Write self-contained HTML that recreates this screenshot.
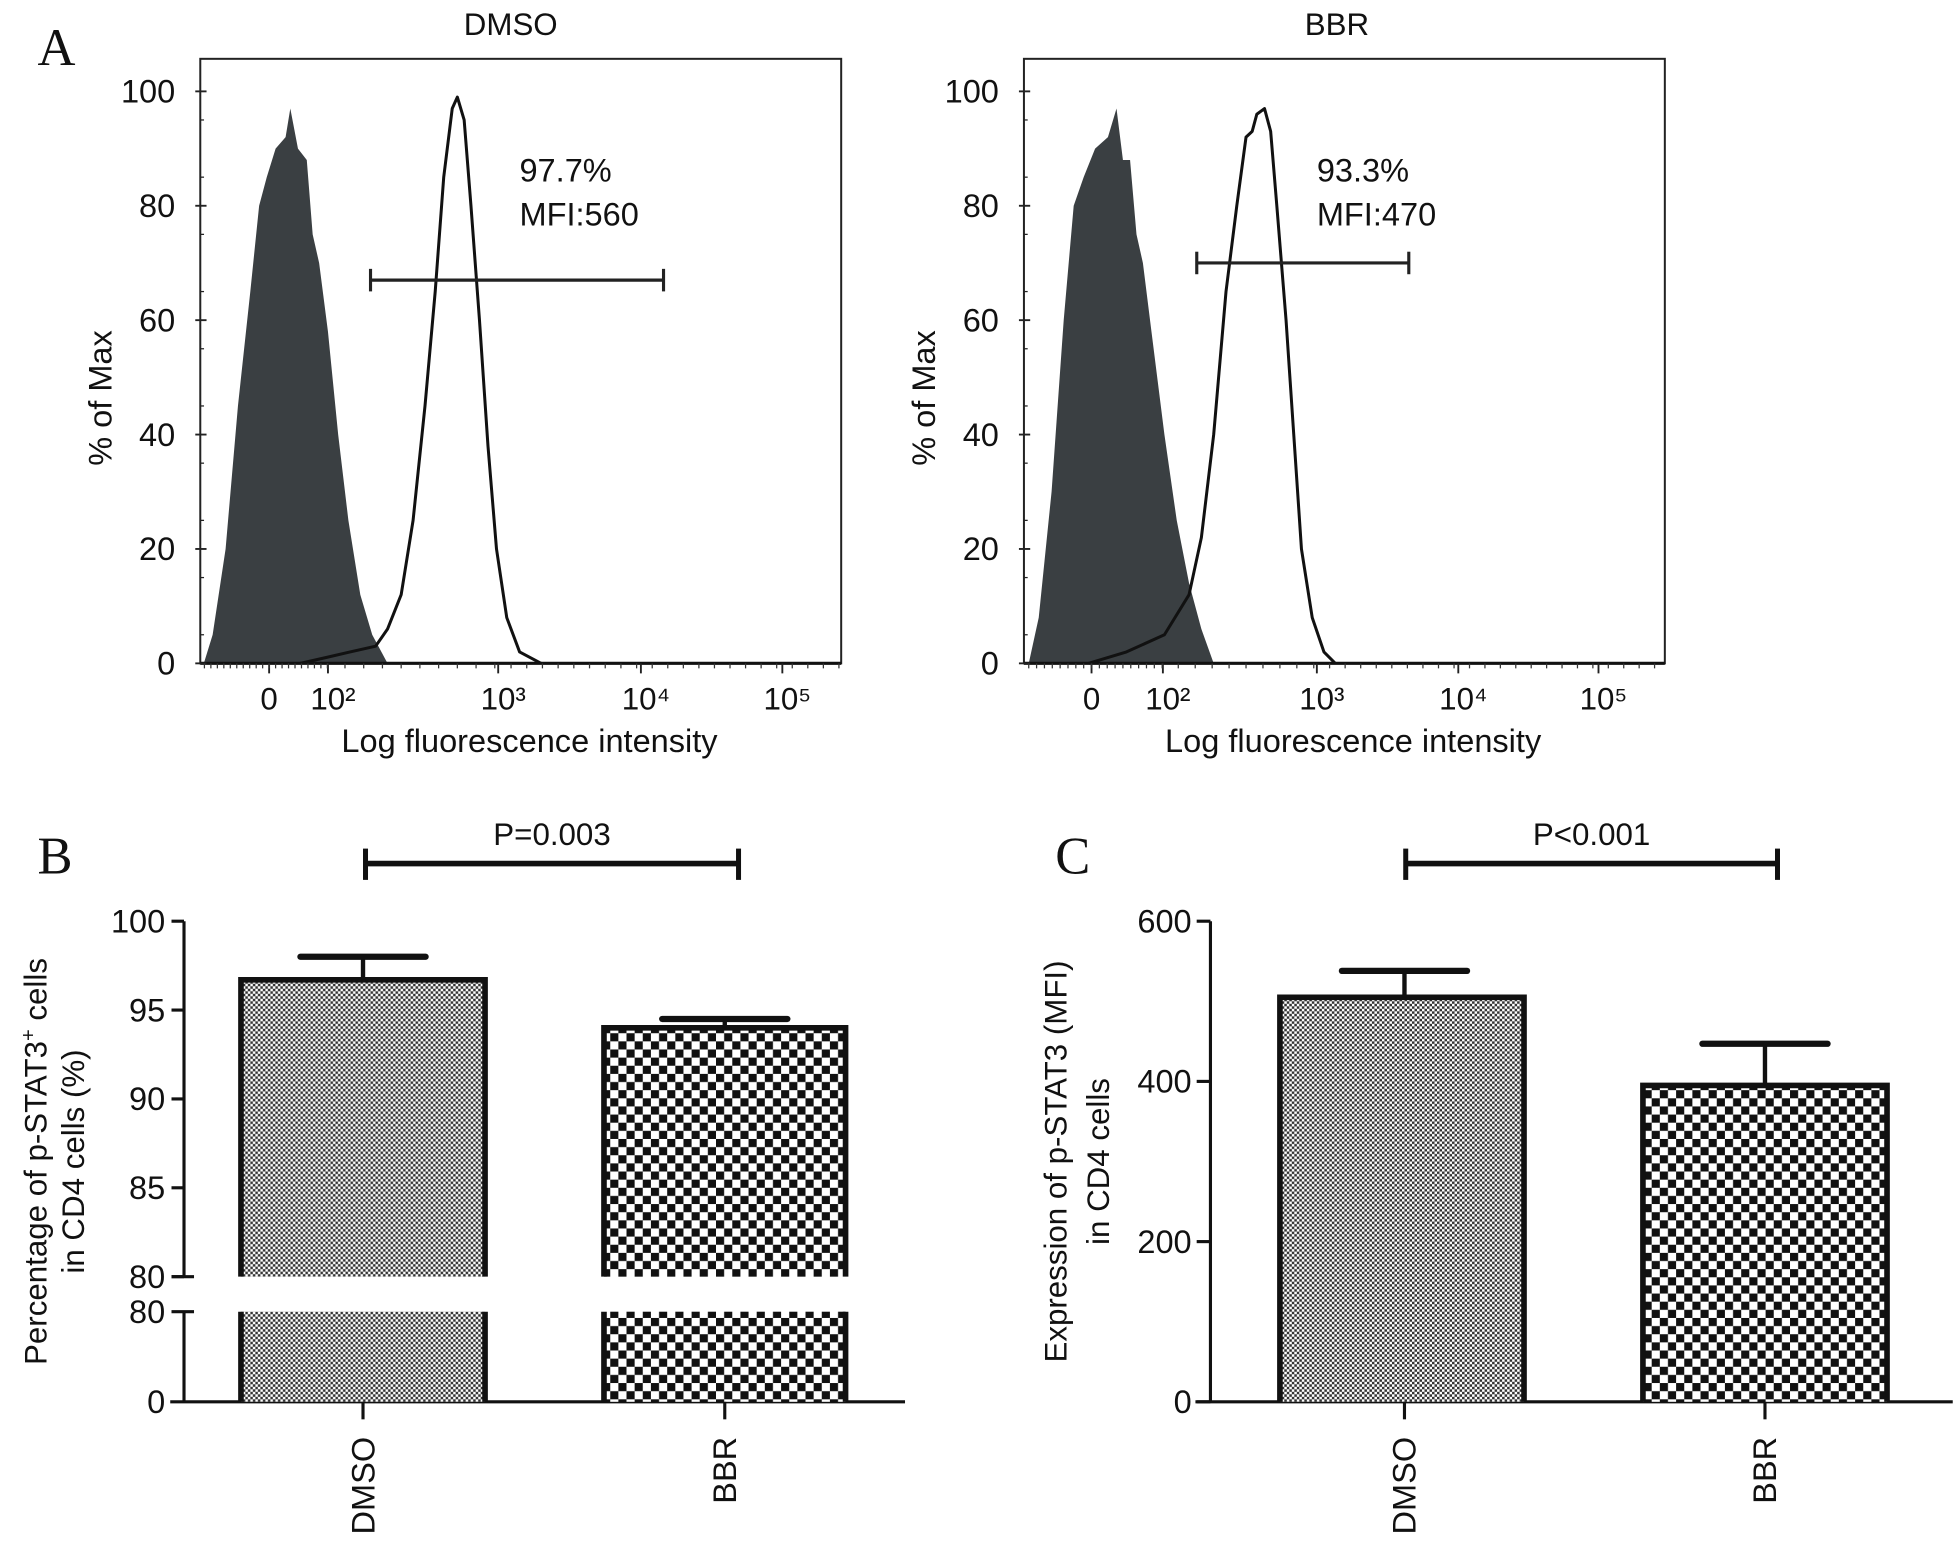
<!DOCTYPE html>
<html><head><meta charset="utf-8"><style>
html,body{margin:0;padding:0;background:#fff}
svg{display:block}
text{font-family:"Liberation Sans",Arial,sans-serif;fill:#111}
.serif{font-family:"Liberation Serif",serif}
</style></head><body>
<svg id="fig" width="1959" height="1542" viewBox="0 0 1565 1232" preserveAspectRatio="none" xmlns="http://www.w3.org/2000/svg">
<defs>
<pattern id="fine" width="4" height="4" patternUnits="userSpaceOnUse">
<rect width="4" height="4" fill="#fff"/><rect width="2" height="2" fill="#333"/><rect x="2" y="2" width="2" height="2" fill="#333"/>
</pattern>
<pattern id="coarse" width="13" height="13" patternUnits="userSpaceOnUse">
<rect width="13" height="13" fill="#fff"/><rect width="6.5" height="6.5" fill="#111"/><rect x="6.5" y="6.5" width="6.5" height="6.5" fill="#111"/>
</pattern>
</defs>
<g id="root"></g>
</svg>
<script>
// ---- Histogram data (t: 0="0",1=1e2,2=1e3,3=1e4,4=1e5 ; y: % of max)
const histTickLabels = ["0","10²","10³","10⁴","10⁵"];
const histYTicks = [0,20,40,60,80,100];
const dmsoIsoT = [-1.11,-0.96,-0.74,-0.53,-0.32,-0.17,-0.04,0.11,0.28,0.36,0.49,0.64,0.74,0.85,1,1.06,1.12,1.19,1.26,1.35];
const dmsoIsoY = [0,5,20,45,65,80,85,90,92,97,90,88,75,70,58,40,25,12,5,0];
const dmsoStainT = [0.53,0.96,1.13,1.28,1.35,1.43,1.5,1.57,1.63,1.68,1.73,1.76,1.8,1.84,1.89,1.94,1.99,2.06,2.15,2.30];
const dmsoStainY = [0,1,2,3,6,12,25,45,65,85,97,99,95,80,60,38,20,8,2,0];
const bbrIsoT = [-0.88,-0.74,-0.56,-0.39,-0.25,-0.11,0.05,0.23,0.35,0.44,0.54,0.63,0.72,0.84,1.01,1.09,1.17,1.25,1.33];
const bbrIsoY = [0,8,30,60,80,85,90,92,97,88,88,75,70,58,40,25,14,6,0];
const bbrStainT = [-0.04,0.49,1.01,1.17,1.25,1.33,1.41,1.48,1.54,1.58,1.61,1.66,1.70,1.74,1.80,1.85,1.90,1.97,2.05,2.13];
const bbrStainY = [0,2,5,12,22,40,65,80,92,93,96,97,93,80,60,40,20,8,2,0];
const gateDmso = [1.25, 3.16];
const gateBbr = [1.22, 2.65];
// ---- Bar data
const barCats = ["DMSO","BBR"];
const pctValues = [96.7, 94.0];
const pctErr = [1.3, 0.5];
const pctTicksUpper = [80,85,90,95,100];
const mfiValues = [505, 395];
const mfiErr = [33, 52];
const mfiTicks = [0,200,400,600];

const NS="http://www.w3.org/2000/svg";
const root=document.getElementById('root');
function el(tag,attrs,parent,txt){const e=document.createElementNS(NS,tag);for(const k in attrs)e.setAttribute(k,attrs[k]);if(txt!==undefined)e.textContent=txt;(parent||root).appendChild(e);return e;}

function histPanel(cfg){
  const g=el('g',{});
  
  
  const {x0,x1,top,bot,ticks}=cfg;
  const y=v=>bot-(v/100)*(bot-73);
  const xs=t=>{ if(t<=1) return ticks[0]+(ticks[1]-ticks[0])*t;
    const i=Math.min(Math.floor(t),3); return ticks[i]+(ticks[i+1]-ticks[i])*(t-i);};
  let d='M'+xs(cfg.isoT[0])+','+y(0);
  cfg.isoT.forEach((t,i)=>d+=' L'+xs(t)+','+y(cfg.isoY[i]));
  d+=' Z';
  const iso=el('path',{d,fill:'#3a3f42',stroke:'none'},g);
  
  
  let d2='';
  cfg.stT.forEach((t,i)=>d2+=(i?' L':'M')+xs(t)+','+y(cfg.stY[i]));
  const st=el('path',{d:d2,fill:'none',stroke:'#111','stroke-width':2.4,'stroke-linejoin':'round'},g);
  
  
  el('rect',{x:x0,y:top,width:x1-x0,height:bot-top,fill:'none',stroke:'#222','stroke-width':1.6},g);
  el('line',{x1:x0,y1:bot,x2:x1,y2:bot,stroke:'#111','stroke-width':2.5},g);
  histYTicks.forEach(v=>{
    el('line',{x1:x0-4,y1:y(v),x2:x0+5,y2:y(v),stroke:'#222','stroke-width':1.5},g);
    const t=el('text',{x:x0-20,y:y(v)+9,'text-anchor':'end','font-size':26},g,String(v));
    
    
  });
  for(let v=5;v<100;v+=10) el('line',{x1:x0,y1:y(v),x2:x0+3,y2:y(v),stroke:'#222','stroke-width':1},g);
  histTickLabels.forEach((lab,i)=>{
    const xx=ticks[i];
    el('line',{x1:xx,y1:bot,x2:xx,y2:bot+8,stroke:'#222','stroke-width':1.5},g);
    const t=el('text',{x:xx+(i?4:0),y:bot+37,'text-anchor':'middle','font-size':25},g,lab);
    
    
  });
  for(let t=-1.1;t<4.5;t+=0.11){const xx=xs(t); if(xx>x0&&xx<x1) el('line',{x1:xx,y1:bot,x2:xx,y2:bot+4,stroke:'#333','stroke-width':1},g);}
  const gy=y(cfg.gateY), ga=xs(cfg.gate[0]), gb=xs(cfg.gate[1]);
  const gate=el('g',{},g);
  
  
  el('line',{x1:ga,y1:gy,x2:gb,y2:gy,stroke:'#222','stroke-width':2.5},gate);
  el('line',{x1:ga,y1:gy-9,x2:ga,y2:gy+9,stroke:'#222','stroke-width':2.5},gate);
  el('line',{x1:gb,y1:gy-9,x2:gb,y2:gy+9,stroke:'#222','stroke-width':2.5},gate);
  const a1=el('text',{x:cfg.annX,y:145,'font-size':26},g,cfg.pct);
   
  const a2=el('text',{x:cfg.annX,y:180,'font-size':26},g,cfg.mfi);
   
  const ti=el('text',{x:cfg.titleX,y:28,'text-anchor':'middle','font-size':25},g,cfg.title);
   
  const yl=el('text',{x:0,y:0,'text-anchor':'middle','font-size':26,transform:`translate(${cfg.ylx},318) rotate(-90)`},g,'% of Max');
   
  const xl=el('text',{x:(x0+x1)/2+7,y:601,'text-anchor':'middle','font-size':26},g,'Log fluorescence intensity');
   
}
histPanel({name:'histogram-dmso',x0:160,x1:672,top:47,bot:530,ticks:[215,262,398,512,625],isoT:dmsoIsoT,isoY:dmsoIsoY,stT:dmsoStainT,stY:dmsoStainY,gate:gateDmso,gateY:67,annX:415,pct:'97.7%',mfi:'MFI:560',title:'DMSO',titleX:408,ylx:89});
histPanel({name:'histogram-bbr',x0:818,x1:1330,top:47,bot:530,ticks:[872,929,1052,1165,1277],isoT:bbrIsoT,isoY:bbrIsoY,stT:bbrStainT,stY:bbrStainY,gate:gateBbr,gateY:70,annX:1052,pct:'93.3%',mfi:'MFI:470',title:'BBR',titleX:1068,ylx:747});

[['A',30,52],['B',30,698],['C',843,698]].forEach(([l,x,y])=>{
  const t=el('text',{x,y,'font-size':42,class:'serif'},root,l);
  
  
});

function sigBar(g,xa,xb,label){
  const s=el('g',{},g);
  
  
  el('line',{x1:xa,y1:690,x2:xb,y2:690,stroke:'#111','stroke-width':4.5},s);
  el('line',{x1:xa,y1:678,x2:xa,y2:703,stroke:'#111','stroke-width':4},s);
  el('line',{x1:xb,y1:678,x2:xb,y2:703,stroke:'#111','stroke-width':4},s);
  const t=el('text',{x:(xa+xb)/2,y:675,'text-anchor':'middle','font-size':25},s,label);
   
}

// ---- Panel B
(function(){
  const g=el('g',{});
  
  
  const ax=147, base=1120;
  const yU=v=>1020-(v-80)*(1020-736)/20;
  const yL=v=>base-v*(base-1048)/80;
  const catX=[290,579], bw=[195,193];
  el('line',{x1:ax,y1:736,x2:ax,y2:1020,stroke:'#111','stroke-width':2.5},g);
  el('line',{x1:ax,y1:1048,x2:ax,y2:base,stroke:'#111','stroke-width':2.5},g);
  el('line',{x1:136,y1:base,x2:723,y2:base,stroke:'#111','stroke-width':2.5},g);
  pctTicksUpper.forEach(v=>{
    el('line',{x1:ax-10,y1:yU(v),x2:ax,y2:yU(v),stroke:'#111','stroke-width':2.5},g);
    const t=el('text',{x:ax-15,y:yU(v)+9,'text-anchor':'end','font-size':26},g,String(v));
     
  });
  el('line',{x1:ax-10,y1:1020,x2:ax+8,y2:1020,stroke:'#111','stroke-width':2.5},g);
  el('line',{x1:ax-10,y1:1048,x2:ax+8,y2:1048,stroke:'#111','stroke-width':2.5},g);
  [[80,yL(80)],[0,yL(0)]].forEach(([v,yy])=>{
    const t=el('text',{x:ax-15,y:yy+9,'text-anchor':'end','font-size':26},g,String(v));
     
  });
  barCats.forEach((c,i)=>{
    const x0=catX[i]-bw[i]/2, x1=catX[i]+bw[i]/2, fill=i?'url(#coarse)':'url(#fine)';
    const top=yU(pctValues[i]);
    const b=el('g',{},g);
    
    
    el('rect',{x:x0,y:top,width:x1-x0,height:1020-top,fill},b);
    el('rect',{x:x0,y:1048,width:x1-x0,height:base-1048,fill},b);
    el('path',{d:`M${x0},1020 L${x0},${top} L${x1},${top} L${x1},1020`,fill:'none',stroke:'#111','stroke-width':4.5},b);
    el('line',{x1:x0,y1:1048,x2:x0,y2:base,stroke:'#111','stroke-width':4.5},b);
    el('line',{x1:x1,y1:1048,x2:x1,y2:base,stroke:'#111','stroke-width':4.5},b);
    const ey=yU(pctValues[i]+pctErr[i]);
    const e=el('g',{},g);
    
    
    el('line',{x1:catX[i],y1:top,x2:catX[i],y2:ey,stroke:'#111','stroke-width':3.5},e);
    el('line',{x1:catX[i]-50,y1:ey,x2:catX[i]+50,y2:ey,stroke:'#111','stroke-width':5,'stroke-linecap':'round'},e);
    el('line',{x1:catX[i],y1:base,x2:catX[i],y2:base+14,stroke:'#111','stroke-width':2.5},g);
    const t=el('text',{x:0,y:0,'text-anchor':'end','font-size':26,transform:`translate(${catX[i]+9},${base+28}) rotate(-90)`},g,c);
     
  });
  sigBar(g,292,590,'P=0.003');
  const t1=el('text',{x:0,y:0,'text-anchor':'middle','font-size':25,transform:'translate(37,928) rotate(-90)'},g);
   
  t1.innerHTML='Percentage of p-STAT3<tspan font-size="16" dy="-9">+</tspan><tspan dy="9"> cells</tspan>';
  const t2=el('text',{x:0,y:0,'text-anchor':'middle','font-size':25,transform:'translate(67,928) rotate(-90)'},g,'in CD4 cells (%)');
   
})();

// ---- Panel C
(function(){
  const g=el('g',{});
  
  
  const ax=967, base=1120;
  const y=v=>base-v*(base-736)/600;
  const catX=[1122,1410], bw=195;
  el('line',{x1:ax,y1:736,x2:ax,y2:base,stroke:'#111','stroke-width':2.5},g);
  el('line',{x1:955,y1:base,x2:1560,y2:base,stroke:'#111','stroke-width':2.5},g);
  mfiTicks.forEach(v=>{
    el('line',{x1:ax-11,y1:y(v),x2:ax,y2:y(v),stroke:'#111','stroke-width':2.5},g);
    const t=el('text',{x:ax-15,y:y(v)+9,'text-anchor':'end','font-size':26},g,String(v));
     
  });
  barCats.forEach((c,i)=>{
    const x0=catX[i]-bw/2+(i?0:-2), x1=x0+bw, fill=i?'url(#coarse)':'url(#fine)';
    const top=y(mfiValues[i]);
    const b=el('g',{},g);
    
    
    el('rect',{x:x0,y:top,width:bw,height:base-top,fill},b);
    el('path',{d:`M${x0},${base} L${x0},${top} L${x1},${top} L${x1},${base}`,fill:'none',stroke:'#111','stroke-width':4.5},b);
    const ey=y(mfiValues[i]+mfiErr[i]), cx=catX[i];
    const e=el('g',{},g);
    
    
    el('line',{x1:cx,y1:top,x2:cx,y2:ey,stroke:'#111','stroke-width':3.5},e);
    el('line',{x1:cx-50,y1:ey,x2:cx+50,y2:ey,stroke:'#111','stroke-width':5,'stroke-linecap':'round'},e);
    el('line',{x1:catX[i],y1:base,x2:catX[i],y2:base+14,stroke:'#111','stroke-width':2.5},g);
    const t=el('text',{x:0,y:0,'text-anchor':'end','font-size':26,transform:`translate(${catX[i]+9},${base+28}) rotate(-90)`},g,c);
     
  });
  sigBar(g,1123,1420,'P<0.001');
  const t1=el('text',{x:0,y:0,'text-anchor':'middle','font-size':25,transform:'translate(852,928) rotate(-90)'},g,'Expression of p-STAT3 (MFI)');
   
  const t2=el('text',{x:0,y:0,'text-anchor':'middle','font-size':25,transform:'translate(886,928) rotate(-90)'},g,'in CD4 cells');
   
})();
</script>
</body></html>
